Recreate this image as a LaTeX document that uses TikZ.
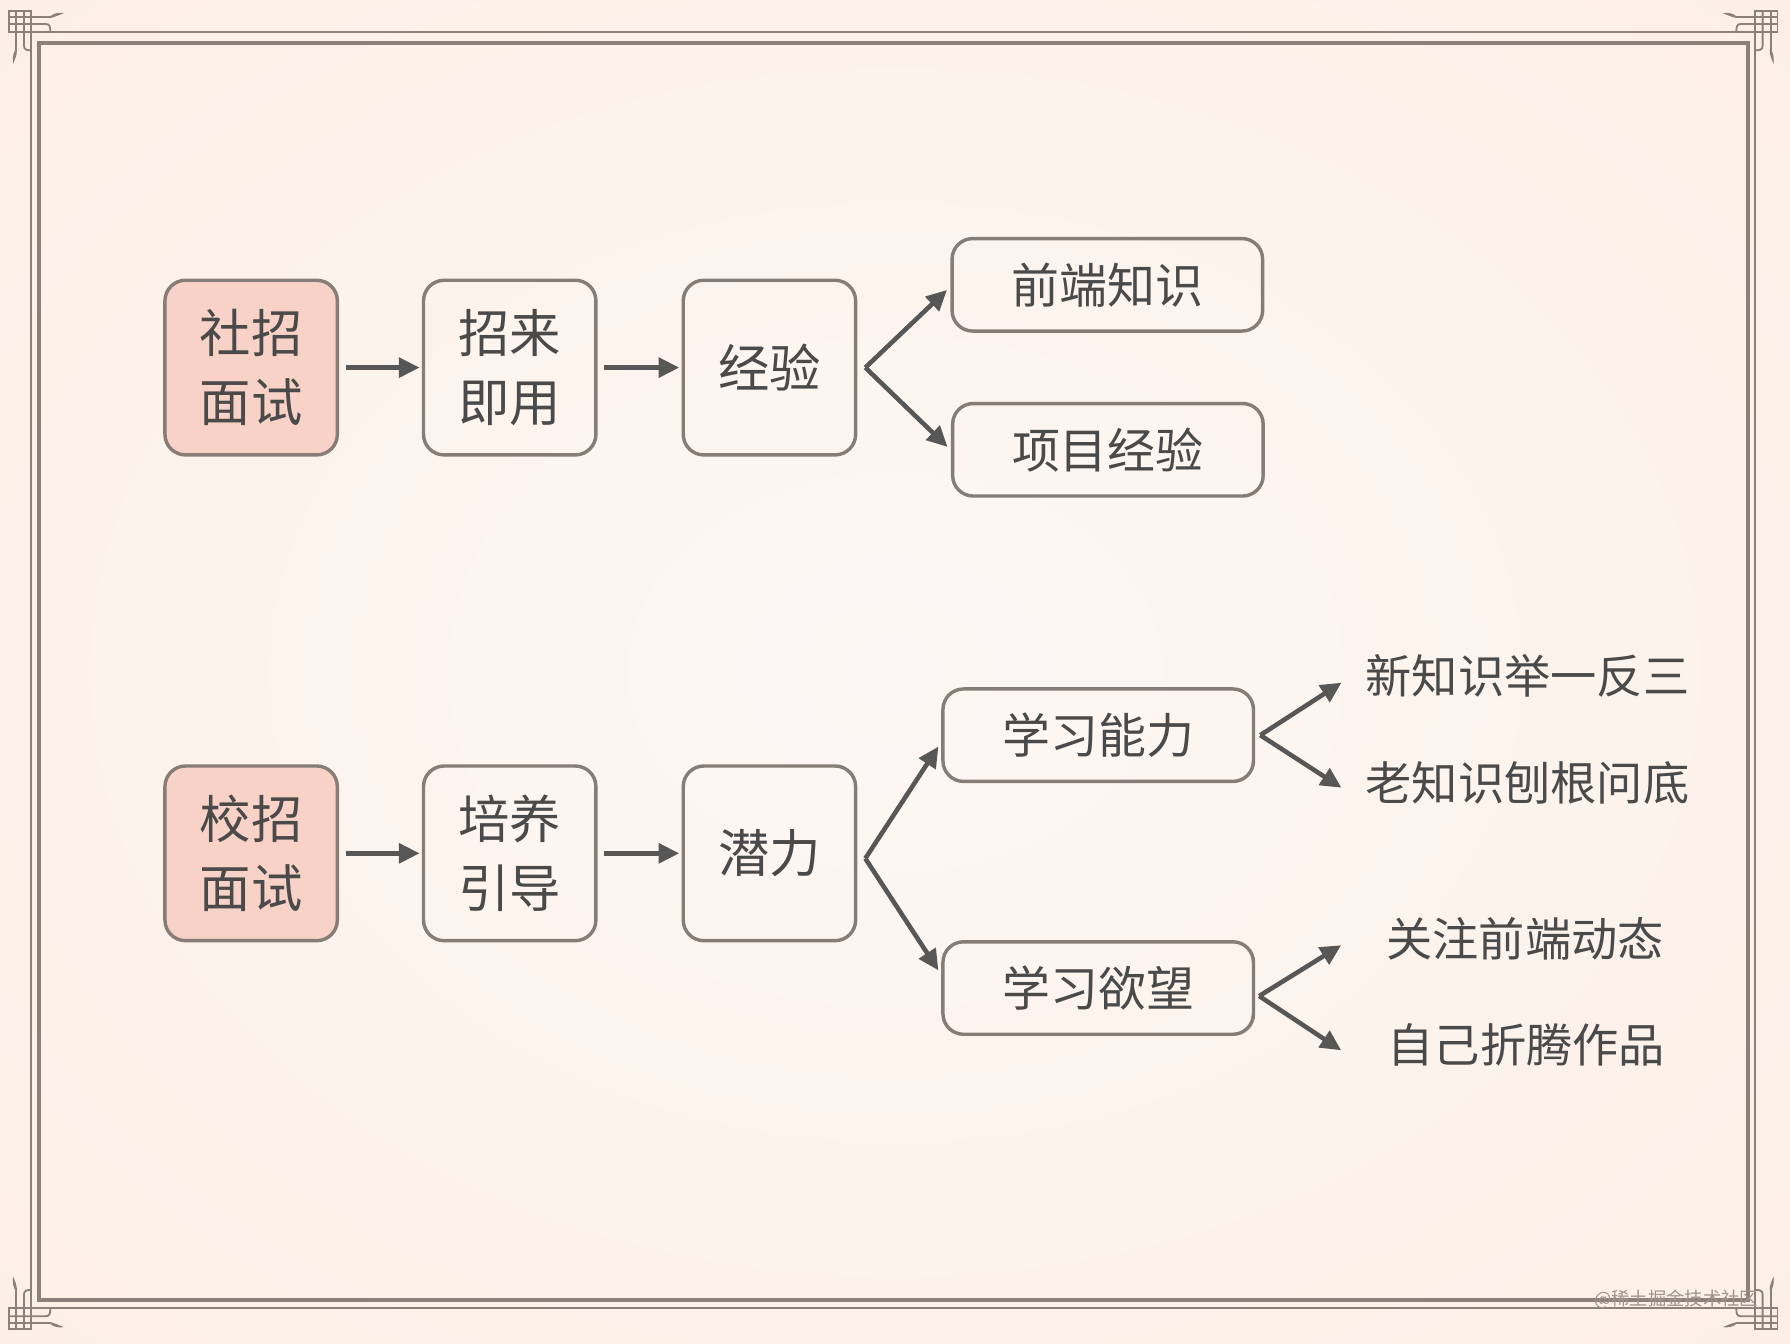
\documentclass[tikz,border=0pt]{standalone}
\usepackage{fontspec}
\newfontfamily\cjk{Noto Sans CJK SC}
\usetikzlibrary{arrows.meta,calc}
\definecolor{bgin}{HTML}{FDF7F3}
\definecolor{bgmid}{HTML}{FCF1E9}
\definecolor{bgedge}{HTML}{F9E9DD}
\definecolor{bgcorner}{HTML}{F3D9C4}
\definecolor{framec}{HTML}{8C807A}
\definecolor{boxline}{HTML}{877D77}
\definecolor{pinkfill}{HTML}{F8D2C6}
\definecolor{arrowc}{HTML}{575757}
\definecolor{txt}{HTML}{4A4A4A}
\definecolor{wmark}{HTML}{9E948D}
\pgfdeclareradialshading{bgshade}{\pgfpoint{0bp}{0bp}}{color(0bp)=(bgin); color(30bp)=(bgmid); color(50bp)=(bgedge); color(71bp)=(bgcorner)}
\newcommand\myornament{%
  \draw[orn] (8,10) rectangle (27.5,28);
  \draw[orn] (8,15) -- (44,15);
  \draw[orn] (8,21) -- (40,21) .. controls (44,21) and (44,24) .. (44,28);
  \draw[orn] (14,10) -- (14,44);
  \draw[orn] (21,10) -- (21,40) .. controls (21,44) and (24,44) .. (27.5,44);
  \fill[framec] (44,14.2) .. controls (48,11) and (52,11) .. (56,11.5) .. controls (52,13) and (48,15) .. (44,15.8) -- cycle;
  \fill[framec] (13.2,44) .. controls (11,48) and (11,52) .. (11.5,56) .. controls (13,52) and (15,48) .. (14.8,44) -- cycle;
}
\begin{document}
\begin{tikzpicture}[x=1pt,y=-1pt,
  bigbox/.style={draw=boxline, line width=3pt, rounded corners=18pt, minimum width=151pt, minimum height=153pt, inner sep=0pt, text=txt, align=center, font={\cjk\fontsize{45}{60}\selectfont}},
  pinkbox/.style={bigbox, fill=pinkfill},
  widebox/.style={draw=boxline, line width=3pt, rounded corners=18pt, minimum width=272pt, minimum height=81pt, inner sep=0pt, text=txt, font={\cjk\fontsize{42}{50}\selectfont}},
  leaf/.style={text=txt, inner sep=0pt, font={\cjk\fontsize{40.5}{48}\selectfont}},
  arr/.style={draw=arrowc, line width=4pt, -{Triangle[length=18pt,width=17pt]}},
  orn/.style={draw=framec, line width=1.6pt},
]
\useasboundingbox (0,0) rectangle (1568,1177);
\shade[shading=bgshade] (0,0) rectangle (1568,1177);
% frames
\draw[framec, line width=1.8pt] (27.5,28) rectangle (1537.5,1146);
\draw[framec, line width=3.5pt] (34.5,37.5) rectangle (1531,1139);
% corner ornaments
\begin{scope}\myornament\end{scope}
\begin{scope}[shift={(1565,0)}, xscale=-1]\myornament\end{scope}
\begin{scope}[shift={(0,1174)}, yscale=-1]\myornament\end{scope}
\begin{scope}[shift={(1565,1174)}, xscale=-1, yscale=-1]\myornament\end{scope}

% top row
\node[pinkbox] (A1) at (220,322) {社招\\面试};
\node[bigbox] (A2) at (446.5,322) {招来\\即用};
\node[bigbox] (A3) at (674,322) {经验};
\node[widebox] (B1) at (970,249.5) {前端知识};
\node[widebox] (B2) at (970.5,394) {项目经验};
% bottom row
\node[pinkbox] (C1) at (220,747.5) {校招\\面试};
\node[bigbox] (C2) at (446.5,747.5) {培养\\引导};
\node[bigbox] (C3) at (674,747.5) {潜力};
\node[widebox] (D1) at (962,644) {学习能力};
\node[widebox] (D2) at (962,865.5) {学习欲望};
\node[leaf] (E1) at (1338,592) {新知识举一反三};
\node[leaf] (E2) at (1338,685.5) {老知识刨根问底};
\node[leaf] (F1) at (1336,822.5) {关注前端动态};
\node[leaf] (F2) at (1337,915) {自己折腾作品};

% straight arrows
\draw[arr, shorten <=6pt, shorten >=2pt] (A1) -- (A2);
\draw[arr, shorten <=6pt, shorten >=2pt] (A2) -- (A3);
\draw[arr, shorten <=6pt, shorten >=2pt] (C1) -- (C2);
\draw[arr, shorten <=6pt, shorten >=2pt] (C2) -- (C3);

% fans
\coordinate (f1) at ($(A3.east)+(7,0)$);
\draw[arr] (f1) -- ($(B1.west)+(-3,4.5)$);
\draw[arr] (f1) -- ($(B2.west)+(-3,-2.5)$);
\coordinate (f2) at ($(C3.east)+(7,4.5)$);
\draw[arr] (f2) -- ($(D1.west)+(-2.5,10)$);
\draw[arr] (f2) -- ($(D2.west)+(-2.5,-15.5)$);
\coordinate (f3) at ($(D1.east)+(4.5,0)$);
\draw[arr] (f3) -- ($(E1.west)+(-21,6)$);
\draw[arr] (f3) -- ($(E2.west)+(-21,4.5)$);
\coordinate (f4) at ($(D2.east)+(3.5,7)$);
\draw[arr] (f4) -- ($(F1.west)+(-39.5,5.5)$);
\draw[arr] (f4) -- ($(F2.west)+(-40.5,5)$);

% watermark
\node[anchor=east, inner sep=0pt, text=wmark, font={\cjk\fontsize{16}{16}\selectfont}] (wm) at (1540,1138) {@稀土掘金技术社区};
\end{tikzpicture}
\end{document}
